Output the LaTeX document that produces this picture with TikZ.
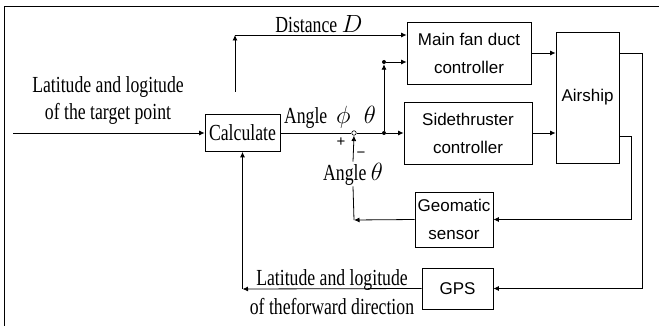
\documentclass[tikz,border=0pt]{standalone}
\usepackage{fontspec}
\setmainfont[FakeStretch=0.77]{Liberation Serif}
\newfontfamily\boxfont{Liberation Sans}
\usetikzlibrary{positioning,arrows.meta,calc}
\tikzset{
  blok/.style={draw,line width=0.8pt,inner sep=0pt,align=center,font=\boxfont\fontsize{17}{28}\selectfont},
  popis/.style={inner sep=1pt,align=center,font=\fontsize{23}{27}\selectfont},
  znak/.style={inner sep=0pt,font=\boxfont\fontsize{15}{15}\selectfont},
  hrana/.style={line width=0.8pt},
  sip/.style={-{Latex[length=5.5pt,width=5pt]},line width=0.8pt},
  bod/.style={circle,fill,inner sep=0pt,minimum size=4pt},
}
\begin{document}
\begin{tikzpicture}[x=1pt,y=-1pt]
  \useasboundingbox (0,0) rectangle (659,326);
  \draw[hrana] (4,330) -- (4,6) -- (665,6);
  % bloky
  \node[blok,minimum width=75pt,minimum height=37pt] (calc) at (242.5,133) {\rmfamily\fontsize{23}{27}\selectfont Calculate};
  \node[blok,minimum width=124pt,minimum height=62pt] (main) at (469,53) {Main fan duct\\controller};
  \node[blok,minimum width=128pt,minimum height=62pt] (side) at (468,133) {Sidethruster\\controller};
  \node[blok,minimum width=63pt,minimum height=131pt] (air) at (587.5,97.5) {Airship};
  \node[blok,minimum width=78pt,minimum height=55pt] (geo) at (454,219.5) {Geomatic\\sensor};
  \node[blok,minimum width=71pt,minimum height=41pt] (gps) at (457.5,288.5) {GPS};
  % popisy
  \node[popis] (cil) at (108,101) {Latitude and logitude\\of the target point};
  \node[popis] (dist) at (319,24) {Distance $D$};
  \node[popis] (uhel) at (330,117) {Angle\ \ $\phi$\ \ \ $\theta$};
  \node[popis] (uhelb) at (353,174) {Angle\ $\theta$};
  \node[popis] (smer) at (332,292) {Latitude and logitude\\[2pt]of theforward direction};
  \node[znak] (plus) at (341,142) {+};
  \node[znak] (minus) at (361,155) {−};
  % body
  \coordinate (vstup) at (13,133);
  \node[circle,draw,line width=0.6pt,inner sep=0pt,minimum size=4.5pt] (sum) at (354,133) {};
  \node[bod] (del) at (384,133) {};
  \node[bod] (hor) at (384,62) {};
  \coordinate (d0) at (235,92);
  \coordinate (d1) at (235,35);
  \coordinate (a1) at (642,53);
  \coordinate (a2) at (631,136);
  \coordinate (zp) at (354,220);
  \coordinate (gz) at (242.5,289);
  % spoje
  \draw[sip] (vstup) -- (calc);
  \draw[hrana] (calc) -- (sum) -- (del);
  \draw[sip] (del) -- (del -| side.west);
  \draw[sip] (del) -- (hor);
  \draw[sip] (hor) -- (hor -| main.west);
  \draw[sip] (d0) -- (d1);
  \draw[sip] (d1) -- (d1 -| main.west);
  \draw[sip] (main.east) -- (main.east -| air.west);
  \draw[sip] (side.east) -- (side.east -| air.west);
  \draw[sip] (air.east |- a1) -- (a1) |- (gps.east);
  \draw[sip] (air.east |- a2) -- (a2) |- (geo.east);
  \draw[sip] (geo.west) -- (zp);
  \draw[hrana] (zp) -- (uhelb.south);
  \draw[sip] (uhelb.north) -- (sum.south);
  \draw[sip] (gps.west) -- (gz);
  \draw[sip] (gz) -- (calc.south);
\end{tikzpicture}
\end{document}
